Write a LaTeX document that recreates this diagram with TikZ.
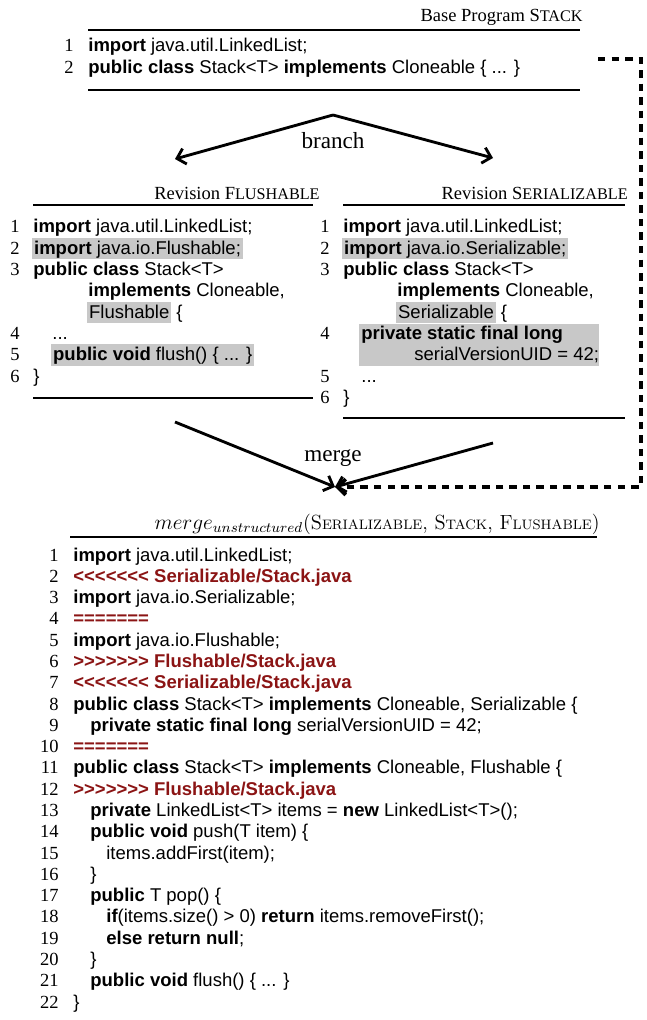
\documentclass[tikz,border=0pt]{standalone}
\usepackage{fontspec}
\setmainfont{Liberation Serif}
\setsansfont{Liberation Sans}
\newfontfamily\lmfont{Latin Modern Roman}
\usetikzlibrary{arrows.meta}

\definecolor{hlgray}{HTML}{C8C8C8}
\definecolor{conflictred}{HTML}{8B1414}

% keywords, shaded changes, faked small capitals
\newcommand\kw[1]{\textbf{#1}}
\newcommand\shadebox[1]{{\setlength{\fboxsep}{0pt}\colorbox{hlgray}{\rule[-2.7pt]{0pt}{12pt}\hspace{1pt}#1\hspace{1pt}}}}
\newcommand\fsc[2]{#1{\fontsize{9.1}{11}\selectfont #2}}
\newcommand\lsc[2]{#1{\fontsize{7.7}{10}\selectfont #2}}
% conflict markers (kerns keep the font mapping from joining the brackets)
\newcommand\openmark{<\kern0pt<\kern0pt<\kern0pt<\kern0pt<\kern0pt<\kern0pt<}
\newcommand\closemark{>\kern0pt>\kern0pt>\kern0pt>\kern0pt>\kern0pt>\kern0pt>}
\newcommand\sepmark{=\kern0pt=\kern0pt=\kern0pt=\kern0pt=\kern0pt=\kern0pt=}

\tikzset{
  code/.style={font=\fontsize{10.4}{12}\selectfont\sffamily, anchor=base west, inner sep=0pt},
  marker/.style={code, font=\fontsize{10.4}{12}\selectfont\sffamily\bfseries, text=conflictred},
  lnum/.style={font=\fontsize{10.4}{12}\selectfont\rmfamily, anchor=base east, inner sep=0pt},
  caption/.style={font=\fontsize{10.4}{12}\selectfont\rmfamily, anchor=base east, inner sep=0pt},
  flowlabel/.style={font=\fontsize{13}{15}\selectfont\rmfamily, inner sep=0pt},
  hrule/.style={line width=0.6pt},
  flow/.style={line width=1.6pt, -{Straight Barb[length=4.5pt,width=9pt]}},
  baseflow/.style={line width=2.1pt, dash pattern=on 4.2pt off 3.4pt, -{Straight Barb[length=4.5pt,width=9pt]}},
}

\begin{document}
\begin{tikzpicture}[x=0.5618pt, y=-0.5618pt]
\useasboundingbox (0,0) rectangle (646,1020);

% ---------------- base program ----------------
\node[caption] (basetitle) at (583,22) {Base Program \fsc{S}{TACK}};
\coordinate (bt1) at (88,30);  \coordinate (bt2) at (580,30);
\draw[hrule] (bt1) -- (bt2);
\node[lnum] (bn1) at (74,52) {1};
\node[code] (bc1) at (88,52) {\kw{import} java.util.LinkedList;};
\node[lnum] (bn2) at (74,73.3) {2};
\node[code] (bc2) at (88,73.3) {\kw{public class} Stack<T> \kw{implements} Cloneable \{ ... \}};
\coordinate (bb1) at (88,90);  \coordinate (bb2) at (580,90);
\draw[hrule] (bb1) -- (bb2);

% ---------------- branch ----------------
\coordinate (apex) at (333,115);
\coordinate (brleft) at (175,159);
\coordinate (brright) at (493,158);
\draw[flow] (apex) -- (brleft);
\draw[flow] (apex) -- (brright);
\node[flowlabel] (branchlbl) at (333,141) {branch};

% ---------------- revision Flushable ----------------
\node[caption] (ftitle) at (320,200) {Revision \fsc{F}{LUSHABLE}};
\coordinate (ft1) at (33,205);  \coordinate (ft2) at (313,205);
\draw[hrule] (ft1) -- (ft2);
\node[lnum] (fn1) at (20,233) {1};
\node[code] (fc1) at (33,233) {\kw{import} java.util.LinkedList;};
\node[lnum] (fn2) at (20,254.3) {2};
\node[code] (fc2) at (32,254.3) {\shadebox{\kw{import} java.io.Flushable;}};
\node[lnum] (fn3) at (20,275.6) {3};
\node[code] (fc3) at (33,275.6) {\kw{public class} Stack<T>};
\node[code] (fc3b) at (88,296.9) {\kw{implements} Cloneable,};
\node[code] (fc3c) at (87,318.2) {\shadebox{Flushable} \{};
\node[lnum] (fn4) at (20,339.5) {4};
\node[code] (fc4) at (52,339.5) {...};
\node[lnum] (fn5) at (20,360.8) {5};
\node[code] (fc5) at (51,360.8) {\shadebox{\kw{public void} flush() \{ ... \}}};
\node[lnum] (fn6) at (20,382.1) {6};
\node[code] (fc6) at (33,382.1) {\}};
\coordinate (fb1) at (33,398);  \coordinate (fb2) at (313,398);
\draw[hrule] (fb1) -- (fb2);

% ---------------- revision Serializable ----------------
\node[caption] (stitle) at (628,200) {Revision \fsc{S}{ERIALIZABLE}};
\coordinate (st1) at (343,205);  \coordinate (st2) at (625,205);
\draw[hrule] (st1) -- (st2);
\fill[hlgray] (359,324) rectangle (599,366);
\node[lnum] (sn1) at (330,233) {1};
\node[code] (sc1) at (343,233) {\kw{import} java.util.LinkedList;};
\node[lnum] (sn2) at (330,254.3) {2};
\node[code] (sc2) at (342,254.3) {\shadebox{\kw{import} java.io.Serializable;}};
\node[lnum] (sn3) at (330,275.6) {3};
\node[code] (sc3) at (343,275.6) {\kw{public class} Stack<T>};
\node[code] (sc3b) at (397,296.9) {\kw{implements} Cloneable,};
\node[code] (sc3c) at (396,318.2) {\shadebox{Serializable} \{};
\node[lnum] (sn4) at (330,339.5) {4};
\node[code] (sc4) at (361,339.5) {\kw{private static final long}};
\node[code] (sc4b) at (414,360.8) {serialVersionUID = 42;};
\node[lnum] (sn5) at (330,382.1) {5};
\node[code] (sc5) at (361,382.1) {...};
\node[lnum] (sn6) at (330,403.4) {6};
\node[code] (sc6) at (343,403.4) {\}};
\coordinate (sb1) at (343,418);  \coordinate (sb2) at (625,418);
\draw[hrule] (sb1) -- (sb2);

% ---------------- merge ----------------
\coordinate (mgleftstart) at (175,422);
\coordinate (mgrightstart) at (493,443);
\coordinate (mgtarget) at (335,487);
\coordinate (dashstart) at (598,59);
\coordinate (dashcorner1) at (641,59);
\coordinate (dashcorner2) at (641,487);
\draw[flow] (mgleftstart) -- (mgtarget);
\draw[flow] (mgrightstart) -- (mgtarget);
\draw[baseflow] (dashstart) -- (dashcorner1) -- (dashcorner2) -- (mgtarget);
\node[flowlabel] (mergelbl) at (333,458) {merge};

% ---------------- unstructured merge result ----------------
\node[caption, font=\fontsize{11.5}{13}\selectfont\lmfont] (mtitle) at (600,529) {$merge_{unstructured}$(\lsc{S}{ERIALIZABLE}, \lsc{S}{TACK}, \lsc{F}{LUSHABLE})};
\coordinate (mt1) at (70,537);  \coordinate (mt2) at (597,537);
\draw[hrule] (mt1) -- (mt2);

\node[lnum] (mn1)  at (59,561.0) {1};
\node[code] (mc1)  at (73,561.0) {\kw{import} java.util.LinkedList;};
\node[lnum] (mn2)  at (59,582.3) {2};
\node[marker] (mc2) at (73,582.3) {\openmark{} Serializable/Stack.java};
\node[lnum] (mn3)  at (59,603.6) {3};
\node[code] (mc3)  at (73,603.6) {\kw{import} java.io.Serializable;};
\node[lnum] (mn4)  at (59,624.9) {4};
\node[marker] (mc4) at (73,624.9) {\sepmark};
\node[lnum] (mn5)  at (59,646.1) {5};
\node[code] (mc5)  at (73,646.1) {\kw{import} java.io.Flushable;};
\node[lnum] (mn6)  at (59,667.4) {6};
\node[marker] (mc6) at (73,667.4) {\closemark{} Flushable/Stack.java};
\node[lnum] (mn7)  at (59,688.7) {7};
\node[marker] (mc7) at (73,688.7) {\openmark{} Serializable/Stack.java};
\node[lnum] (mn8)  at (59,710.0) {8};
\node[code] (mc8)  at (73,710.0) {\kw{public class} Stack<T> \kw{implements} Cloneable, Serializable \{};
\node[lnum] (mn9)  at (59,731.3) {9};
\node[code] (mc9)  at (90,731.3) {\kw{private static final long} serialVersionUID = 42;};
\node[lnum] (mn10) at (59,752.6) {10};
\node[marker] (mc10) at (73,752.6) {\sepmark};
\node[lnum] (mn11) at (59,773.9) {11};
\node[code] (mc11) at (73,773.9) {\kw{public class} Stack<T> \kw{implements} Cloneable, Flushable \{};
\node[lnum] (mn12) at (59,795.1) {12};
\node[marker] (mc12) at (73,795.1) {\closemark{} Flushable/Stack.java};
\node[lnum] (mn13) at (59,816.4) {13};
\node[code] (mc13) at (90,816.4) {\kw{private} LinkedList<T> items = \kw{new} LinkedList<T>();};
\node[lnum] (mn14) at (59,837.7) {14};
\node[code] (mc14) at (90,837.7) {\kw{public void} push(T item) \{};
\node[lnum] (mn15) at (59,859.0) {15};
\node[code] (mc15) at (106,859.0) {items.addFirst(item);};
\node[lnum] (mn16) at (59,880.3) {16};
\node[code] (mc16) at (90,880.3) {\}};
\node[lnum] (mn17) at (59,901.6) {17};
\node[code] (mc17) at (90,901.6) {\kw{public} T pop() \{};
\node[lnum] (mn18) at (59,922.9) {18};
\node[code] (mc18) at (106,922.9) {\kw{if}(items.size() > 0) \kw{return} items.removeFirst();};
\node[lnum] (mn19) at (59,944.1) {19};
\node[code] (mc19) at (106,944.1) {\kw{else return null};};
\node[lnum] (mn20) at (59,965.4) {20};
\node[code] (mc20) at (90,965.4) {\}};
\node[lnum] (mn21) at (59,986.7) {21};
\node[code] (mc21) at (90,986.7) {\kw{public void} flush() \{ ... \}};
\node[lnum] (mn22) at (59,1008.0) {22};
\node[code] (mc22) at (73,1008.0) {\}};
\end{tikzpicture}
\end{document}
